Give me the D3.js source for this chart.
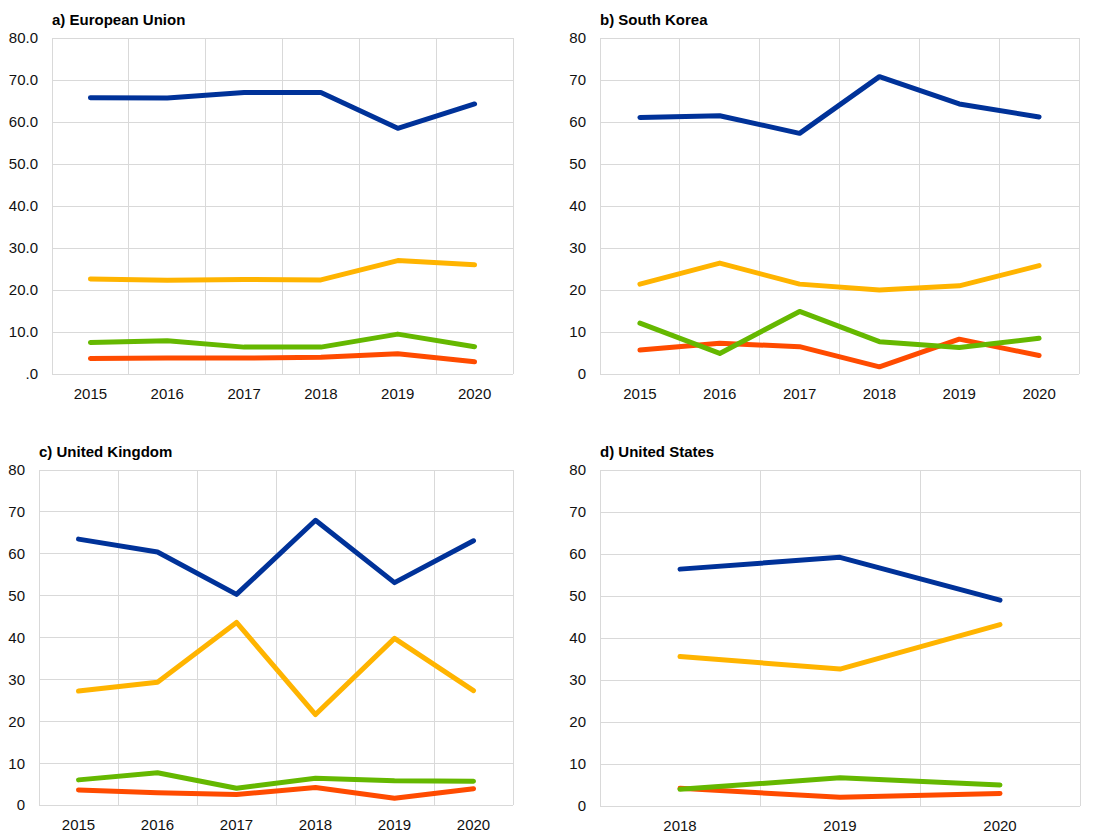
<!DOCTYPE html>
<html>
<head>
<meta charset="utf-8">
<script src="https://cdn.jsdelivr.net/npm/d3@7"></script>
<style>
  html, body { margin: 0; padding: 0; background: #fff; }
  svg { display: block; font-family: "Liberation Sans", Arial, sans-serif; }
</style>
</head>
<body>
<svg id="chart" width="1096" height="832"></svg>
<script>
// ---------- data ----------
const years6 = ["2015", "2016", "2017", "2018", "2019", "2020"];
const years3 = ["2018", "2019", "2020"];
const yTicks = [0, 10, 20, 30, 40, 50, 60, 70, 80];
const yLabelsEU = [".0", "10.0", "20.0", "30.0", "40.0", "50.0", "60.0", "70.0", "80.0"];
const yLabelsInt = ["0", "10", "20", "30", "40", "50", "60", "70", "80"];

// colours in drawing order: blue, yellow, red, green (green drawn on top of red)
const seriesColors = ["#003299", "#ffb400", "#ff4b00", "#65b800"];

// a) European Union
const euBlue   = [65.8, 65.7, 67.0, 67.0, 58.5, 64.3];
const euYellow = [22.6, 22.3, 22.5, 22.4, 27.0, 26.0];
const euGreen  = [7.5, 7.9, 6.4, 6.4, 9.5, 6.5];
const euRed    = [3.7, 3.8, 3.8, 4.0, 4.8, 2.9];

// b) South Korea
const krBlue   = [61.1, 61.5, 57.3, 70.8, 64.3, 61.2];
const krYellow = [21.4, 26.4, 21.4, 20.0, 21.0, 25.8];
const krGreen  = [12.1, 4.9, 14.9, 7.7, 6.3, 8.5];
const krRed    = [5.7, 7.3, 6.5, 1.7, 8.3, 4.4];

// c) United Kingdom
const ukBlue   = [63.5, 60.4, 50.3, 68.0, 53.1, 63.1];
const ukYellow = [27.2, 29.3, 43.6, 21.6, 39.8, 27.3];
const ukGreen  = [6.0, 7.7, 4.0, 6.4, 5.8, 5.7];
const ukRed    = [3.6, 2.9, 2.5, 4.2, 1.6, 3.9];

// d) United States
const usBlue   = [56.4, 59.2, 49.0];
const usYellow = [35.6, 32.6, 43.2];
const usGreen  = [4.0, 6.7, 5.0];
const usRed    = [4.2, 2.1, 3.0];

// ---------- layout ----------
const panels = [
  { title: "a) European Union", years: years6, labels: yLabelsEU,
    series: [euBlue, euYellow, euRed, euGreen],
    box: { left: 52, top: 38, right: 513, bottom: 374 } },
  { title: "b) South Korea", years: years6, labels: yLabelsInt,
    series: [krBlue, krYellow, krRed, krGreen],
    box: { left: 600, top: 38, right: 1079, bottom: 374 } },
  { title: "c) United Kingdom", years: years6, labels: yLabelsInt,
    series: [ukBlue, ukYellow, ukRed, ukGreen],
    box: { left: 39, top: 470, right: 513, bottom: 805 } },
  { title: "d) United States", years: years3, labels: yLabelsInt,
    series: [usBlue, usYellow, usRed, usGreen],
    box: { left: 600, top: 470, right: 1080, bottom: 806 } }
];

const svg = d3.select("#chart");
const gridColor = "#d9d9d9";
const textColor = "#111";

panels.forEach(p => {
  const b = p.box;
  const g = svg.append("g");
  const x = d3.scaleBand().domain(p.years).range([b.left, b.right]).padding(0);
  const y = d3.scaleLinear().domain([0, 80]).range([b.bottom, b.top]);

  // horizontal grid
  g.selectAll("line.hg").data(yTicks).enter().append("line")
    .attr("x1", b.left).attr("x2", b.right)
    .attr("y1", d => y(d)).attr("y2", d => y(d))
    .attr("stroke", gridColor).attr("stroke-width", 1)
    .attr("shape-rendering", "crispEdges");

  // vertical grid at band boundaries
  const bounds = p.years.map(d => x(d)).concat([x(p.years[p.years.length - 1]) + x.bandwidth()]);
  g.selectAll("line.vg").data(bounds).enter().append("line")
    .attr("x1", d => d).attr("x2", d => d)
    .attr("y1", b.top).attr("y2", b.bottom)
    .attr("stroke", gridColor).attr("stroke-width", 1)
    .attr("shape-rendering", "crispEdges");

  // y labels
  g.selectAll("text.yl").data(yTicks).enter().append("text")
    .attr("x", b.left - 14)
    .attr("y", d => y(d))
    .attr("dy", "0.36em")
    .attr("text-anchor", "end")
    .attr("font-size", 15)
    .attr("fill", textColor)
    .text((d, i) => p.labels[i]);

  // x labels
  g.selectAll("text.xl").data(p.years).enter().append("text")
    .attr("x", d => x(d) + x.bandwidth() / 2)
    .attr("y", b.bottom + 24.5)
    .attr("text-anchor", "middle")
    .attr("font-size", 15)
    .attr("fill", textColor)
    .text(d => d);

  // title
  g.append("text")
    .attr("x", b.left)
    .attr("y", b.top - 13)
    .attr("font-size", 15)
    .attr("font-weight", "bold")
    .attr("fill", "#000")
    .text(p.title);

  // lines
  const line = d3.line()
    .x((d, i) => x(p.years[i]) + x.bandwidth() / 2)
    .y(d => y(d));

  p.series.forEach((s, k) => {
    g.append("path")
      .datum(s)
      .attr("d", line)
      .attr("fill", "none")
      .attr("stroke", seriesColors[k])
      .attr("stroke-width", 5)
      .attr("stroke-linecap", "round")
      .attr("stroke-linejoin", "round");
  });
});
</script>
</body>
</html>
